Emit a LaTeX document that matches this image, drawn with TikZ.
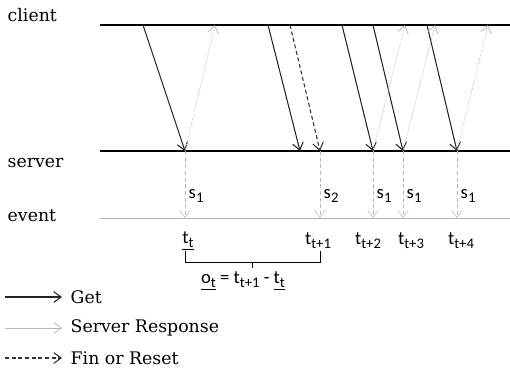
\documentclass[tikz,border=0pt]{standalone}
\usepackage{fontspec}
\setmainfont{DejaVu Serif}
\newfontfamily\labfont{Carlito}
\usetikzlibrary{arrows.meta,positioning}
\newcommand{\lsub}[1]{\raisebox{-0.45ex}{\fontsize{11}{12}\selectfont #1}}

\tikzset{
  tip/.style={-{Straight Barb[length=5.5pt,width=8pt]}},
  getarrow/.style={tip,thick,black!85},
  resparrow/.style={tip,gray!55,densely dotted,semithick},
  keyresp/.style={tip,gray!55,semithick},
  finarrow/.style={tip,densely dashed,thick,black!80},
  evarrow/.style={tip,gray!55,densely dashed},
  rowname/.style={anchor=west,font=\fontsize{13}{15}\selectfont},
  sublabel/.style={font=\labfont\fontsize{14}{16}\selectfont},
  legendtext/.style={anchor=west,font=\fontsize{13}{15}\selectfont}
}

\begin{document}
\begin{tikzpicture}[x=0.75pt,y=-0.75pt]
\useasboundingbox (0,0) rectangle (510,379);
% row names and time lines
\node[rowname] (client) at (3,15) {client};
\node[rowname] (server) at (3,163) {server};
\node[rowname] (event) at (3,216) {event};
\coordinate (cl) at (100,25); \coordinate (cr) at (510,25);
\coordinate (sl) at (100,151); \coordinate (sr) at (510,151);
\coordinate (el) at (100,218); \coordinate (er) at (510,218);
\draw[thick] (cl) -- (cr);
\draw[thick] (sl) -- (sr);
\draw[gray!60,semithick] (el) -- (er);
% requests
\foreach \i/\a/\b in {1/143/185,2/268/300,3/342/373,4/373/403,5/427/457} {
  \coordinate (g\i) at (\a,25); \coordinate (h\i) at (\b,151);
  \draw[getarrow] (g\i) -- (h\i);
}
\coordinate (f1) at (290,25); \coordinate (f2) at (320,151);
\draw[finarrow] (f1) -- (f2);
% responses
\foreach \i/\a/\b in {1/185/215,2/373/405,3/403/435,4/457/488} {
  \coordinate (r\i) at (\a,151); \coordinate (q\i) at (\b,25);
  \draw[resparrow] (r\i) -- (q\i);
}
% events
\foreach \i/\x/\lx/\s/\t in {1/185/188/1/\underline{t\lsub{t}},2/320/318/2/t\lsub{t+1},
    3/373/368/1/t\lsub{t+2},4/403/411/1/t\lsub{t+3},5/457/461/1/t\lsub{t+4}} {
  \coordinate (s\i) at (\x,151); \coordinate (e\i) at (\x,218);
  \draw[evarrow] (s\i) -- (e\i);
  \node[sublabel,anchor=west] (sl\i) at (\x-1,196) {s\lsub{\s}};
  \node[sublabel] (tl\i) at (\lx,241) {\t};
}
% interval brace
\coordinate (b1) at (185,251); \coordinate (b2) at (320,251);
\coordinate (bm) at (252,262);
\draw[semithick] (b1) -- (185,262) -- (320,262) -- (b2);
\draw[semithick] (bm) -- ++(0,6) coordinate (bt);
\node[sublabel] (gap) at (243,281) {\underline{o\lsub{t}} = t\lsub{t+1} - \underline{t\lsub{t}}};
% legend
\foreach \i/\y/\sty/\txt in {1/297/getarrow/Get,2/328/keyresp/Server Response,3/358/finarrow/Fin or Reset} {
  \coordinate (la\i) at (5,\y); \coordinate (lb\i) at (62,\y);
  \draw[\sty] (la\i) -- (lb\i);
  \node[legendtext] (lt\i) at (66,\y) {\txt};
}
\end{tikzpicture}
\end{document}
